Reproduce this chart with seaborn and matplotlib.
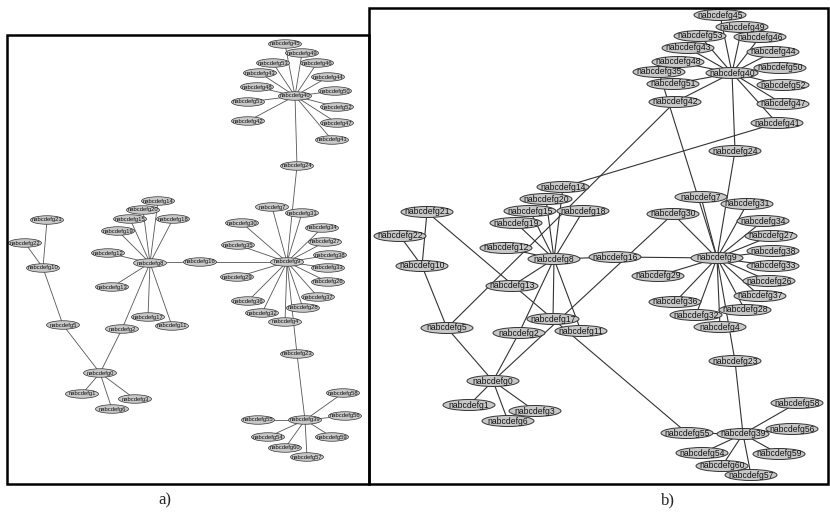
import matplotlib
matplotlib.use('Agg')
import matplotlib.pyplot as plt
from matplotlib.patches import Ellipse, Rectangle
import seaborn as sns
import pandas as pd

# node ids (there is no node 25)
nodes = [0, 1, 2, 3, 4, 5, 6, 7, 8, 9, 10, 11, 12, 13, 14, 15, 16, 17, 18, 19,
         20, 21, 22, 23, 24, 26, 27, 28, 29, 30, 31, 32, 33, 34, 35, 36, 37, 38,
         39, 40, 41, 42, 43, 44, 45, 46, 47, 48, 49, 50, 51, 52, 53, 54, 55, 56,
         57, 58, 59, 60]

# layout a) (pixel coords)
a_x = [100, 82, 122, 135, 285, 63, 112, 272, 150, 287, 43, 172, 108, 112, 158, 130, 200, 148, 173, 118,
       143, 47, 25, 297, 297, 328, 325, 303, 237, 242, 302, 262, 328, 322, 238, 248, 318, 330,
       305, 295, 332, 248, 260, 328, 285, 317, 337, 257, 302, 335, 248, 337, 273, 268, 258, 345,
       307, 343, 332, 285]
a_y = [373, 394, 329, 399, 322, 325, 409, 207, 263, 262, 268, 326, 253, 287, 201, 219, 262, 317, 219, 231,
       210, 220, 243, 354, 166, 282, 242, 308, 277, 223, 213, 313, 268, 228, 245, 301, 297, 255,
       420, 96, 140, 121, 73, 77, 44, 63, 123, 87, 53, 91, 102, 107, 63, 437, 420, 416,
       457, 393, 437, 448]

# layout b)
b_x = [493, 469, 519, 535, 720, 447, 508, 701, 554, 717, 422, 581, 506, 512, 563, 530, 615, 553, 583, 516,
       546, 427, 400, 735, 735, 769, 771, 745, 658, 673, 747, 696, 773, 763, 659, 675, 760, 773,
       743, 732, 777, 675, 688, 773, 720, 760, 783, 678, 742, 780, 673, 783, 700, 702, 687, 792,
       751, 797, 779, 722]
b_y = [381, 405, 333, 411, 327, 328, 421, 197, 259, 258, 266, 331, 248, 286, 187, 211, 257, 319, 211, 223,
       199, 212, 236, 361, 151, 281, 236, 310, 276, 214, 204, 315, 266, 221, 72, 302, 296, 251,
       434, 73, 123, 102, 48, 52, 15, 37, 104, 62, 27, 68, 84, 85, 36, 453, 433, 429,
       475, 403, 454, 466]

# tree edges (both panels)
tree_src = [40] * 14 + [24] + [9] * 17 + [16] + [8] * 10 + [2, 5, 5, 10, 10, 0, 0, 0, 23] + [39] * 7
tree_dst = [45, 49, 53, 46, 43, 44, 48, 50, 51, 52, 42, 47, 41, 24,
            9,
            7, 31, 30, 34, 27, 35, 38, 33, 29, 26, 37, 36, 28, 32, 4, 16, 23,
            8,
            14, 20, 15, 18, 19, 12, 13, 17, 11, 2,
            0, 0, 10, 21, 22, 1, 3, 6, 39,
            58, 56, 55, 59, 54, 60, 57]

# extra edges only in b)
extra_src = [42, 41, 30, 21]
extra_dst = [5, 14, 0, 55]


def edge_frame(xs, ys, src, dst):
    idx = {n: i for i, n in enumerate(nodes)}
    rows = []
    for k, (s, d) in enumerate(zip(src, dst)):
        rows.append({'edge': k, 'x': xs[idx[s]], 'y': ys[idx[s]]})
        rows.append({'edge': k, 'x': xs[idx[d]], 'y': ys[idx[d]]})
    return pd.DataFrame(rows)


sns.set_theme(style='white')
plt.rcParams['font.family'] = ['Liberation Sans', 'DejaVu Sans']

fig = plt.figure(figsize=(8.3, 5.12), dpi=100)
ax = fig.add_axes([0, 0, 1, 1])

df_a = edge_frame(a_x, a_y, tree_src, tree_dst)
df_b = edge_frame(b_x, b_y, tree_src + extra_src, tree_dst + extra_dst)

sns.lineplot(data=df_a, x='x', y='y', units='edge', estimator=None, sort=False,
             color='#555555', linewidth=0.6, legend=False, ax=ax)
sns.lineplot(data=df_b, x='x', y='y', units='edge', estimator=None, sort=False,
             color='#333333', linewidth=0.8, legend=False, ax=ax)

# nodes
for n, x, y in zip(nodes, a_x, a_y):
    ax.add_patch(Ellipse((x, y), 33, 8.5, fc='#c8c8c8', ec='#333333', lw=0.5, zorder=3))
    ax.text(x, y, f'nabcdefg{n}', ha='center', va='center', fontsize=4.2, color='#111111', zorder=4)

for n, x, y in zip(nodes, b_x, b_y):
    ax.add_patch(Ellipse((x, y), 52, 11, fc='#c8c8c8', ec='#333333', lw=0.7, zorder=3))
    ax.text(x, y, f'nabcdefg{n}', ha='center', va='center', fontsize=6.2, color='#111111', zorder=4)

# panel frames
ax.add_patch(Rectangle((7, 35), 362, 449, fill=False, ec='black', lw=1.8, zorder=5))
ax.add_patch(Rectangle((369, 8), 459, 476, fill=False, ec='black', lw=1.8, zorder=5))

ax.text(165, 500, 'a)', ha='center', va='center', fontsize=12, family='Liberation Serif')
ax.text(668, 500, 'b)', ha='center', va='center', fontsize=12, family='Liberation Serif')

ax.set_xlim(0, 830)
ax.set_ylim(512, 0)
ax.set_axis_off()

fig.savefig('out.png', dpi=100)
